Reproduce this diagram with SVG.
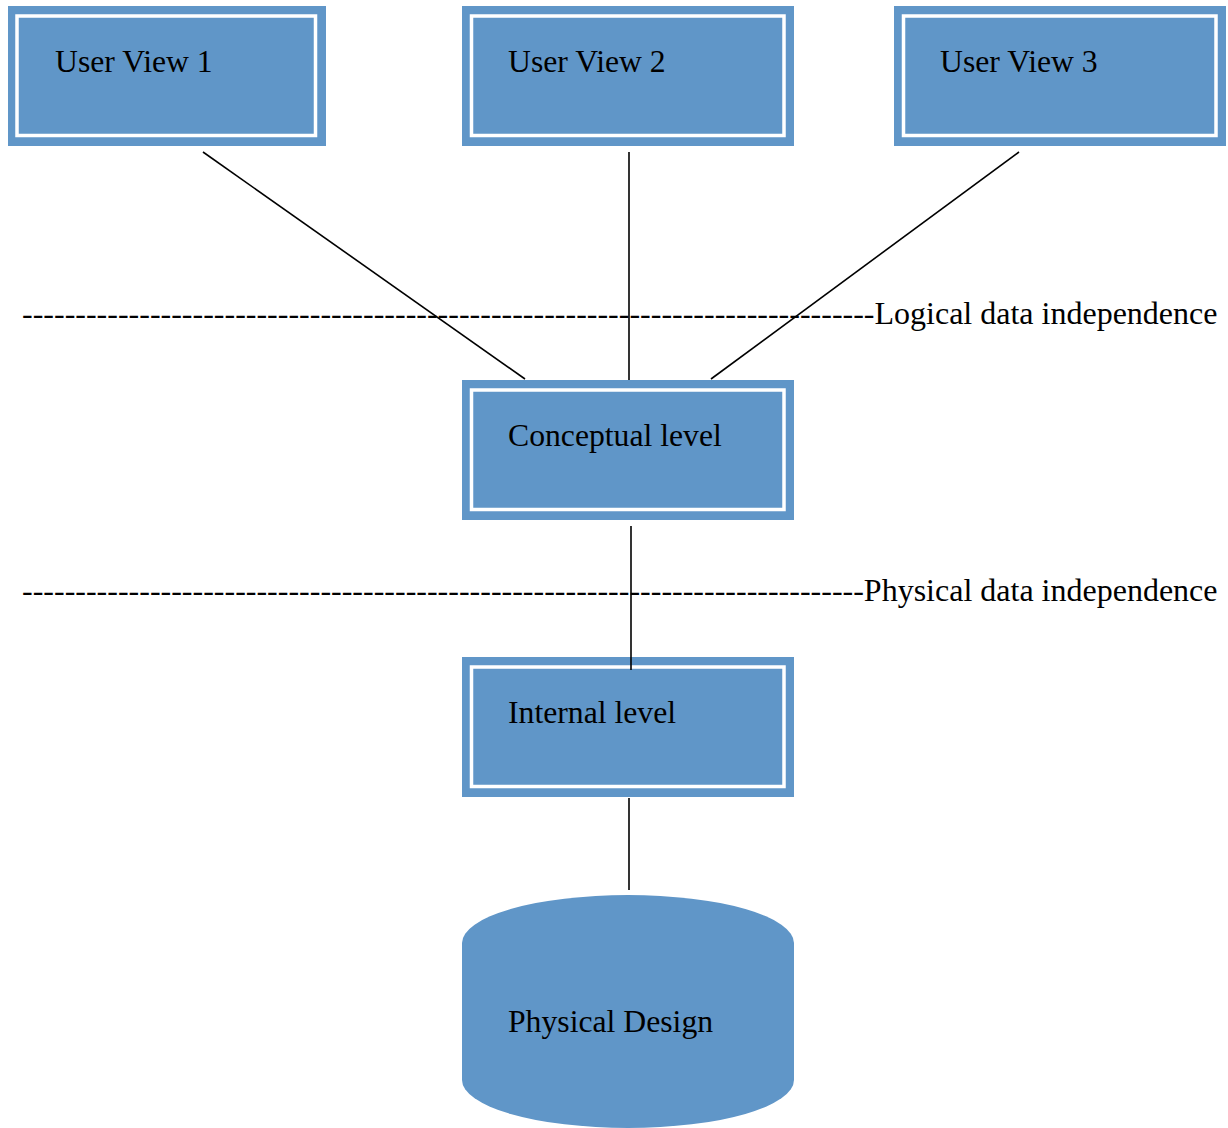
<svg xmlns="http://www.w3.org/2000/svg" width="1228" height="1128" viewBox="0 0 1228 1128">
  <style>
    .outer { fill: #6096c8; }
    .inner { fill: none; stroke: #ffffff; stroke-width: 3.5; }
    .label { font-family: "Liberation Serif", "Times New Roman", serif; font-size: 31.7px; fill: #000000; }
    .bound { font-family: "Liberation Serif", "Times New Roman", serif; font-size: 32px; fill: #000000; }
    .conn { stroke: #000000; stroke-width: 1.6; fill: none; }
  </style>
  <rect width="1228" height="1128" fill="#ffffff"/>

  <!-- independence boundaries -->
  <g id="boundaries">
    <text class="bound" x="22" y="324">--------------------------------------------------------------------------------Logical data independence</text>
    <text class="bound" x="22" y="601">-------------------------------------------------------------------------------Physical data independence</text>
  </g>

  <g id="user-view-1">
    <rect class="outer" x="8" y="6" width="318" height="140"/>
    <rect class="inner" x="17" y="16" width="298.5" height="119.5"/>
    <text class="label" x="55" y="72">User View 1</text>
  </g>

  <g id="user-view-2">
    <rect class="outer" x="462" y="6" width="332" height="140"/>
    <rect class="inner" x="471.5" y="16" width="312.5" height="119.5"/>
    <text class="label" x="508" y="72">User View 2</text>
  </g>

  <g id="user-view-3">
    <rect class="outer" x="894" y="6" width="332" height="140"/>
    <rect class="inner" x="903.5" y="16" width="312.5" height="119.5"/>
    <text class="label" x="940" y="72">User View 3</text>
  </g>

  <g id="conceptual-level">
    <rect class="outer" x="462" y="380" width="332" height="140"/>
    <rect class="inner" x="471.5" y="390" width="312.5" height="119.5"/>
    <text class="label" x="508" y="446">Conceptual level</text>
  </g>

  <g id="internal-level">
    <rect class="outer" x="462" y="657" width="332" height="140"/>
    <rect class="inner" x="471.5" y="667" width="312.5" height="119.5"/>
    <text class="label" x="508" y="723">Internal level</text>
  </g>

  <g id="physical-design">
    <path class="outer" d="M462,943 A166,48 0 0 1 794,943 L794,1080 A166,48 0 0 1 462,1080 Z"/>
    <text class="label" x="508" y="1032">Physical Design</text>
  </g>

  <!-- connectors, drawn last so the conceptual-internal link overlaps the box edge -->
  <g id="connectors">
    <line class="conn" x1="203" y1="152" x2="525" y2="379"/>
    <line class="conn" x1="629" y1="152" x2="629" y2="380"/>
    <line class="conn" x1="1019" y1="152" x2="711" y2="379"/>
    <line class="conn" x1="631" y1="526" x2="631" y2="670"/>
    <line class="conn" x1="629" y1="798" x2="629" y2="890"/>
  </g>
</svg>
